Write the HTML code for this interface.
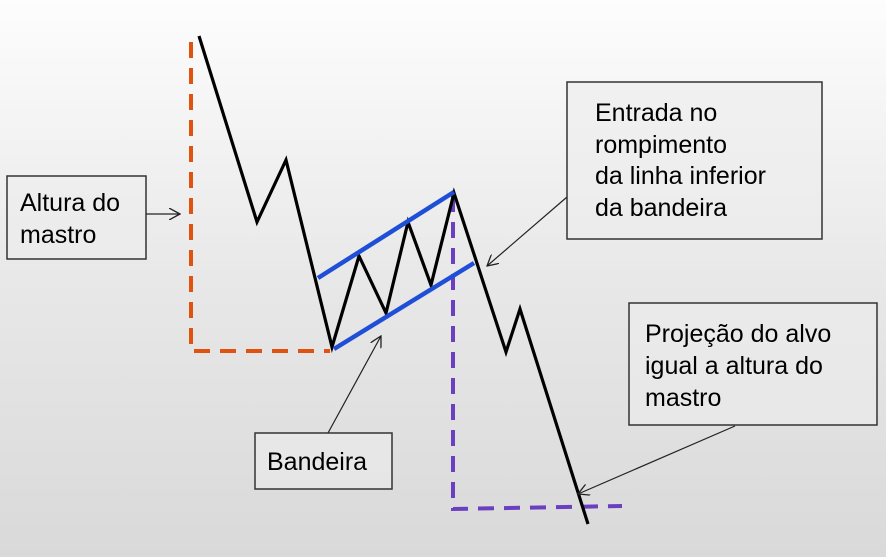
<!DOCTYPE html>
<html><head><meta charset="utf-8"><style>
html,body{margin:0;padding:0}
body{width:886px;height:557px;overflow:hidden;background:linear-gradient(#fdfdfd,#e8e8e8 50%,#d9d9d9);font-family:"Liberation Sans",sans-serif}
</style></head><body>
<svg width="886" height="557" xmlns="http://www.w3.org/2000/svg" style="position:absolute;left:0;top:0">
<defs><marker id="a" markerWidth="12" markerHeight="12" refX="11" refY="6" orient="auto" markerUnits="userSpaceOnUse"><path d="M0,0 L11,6 L0,12" fill="none" stroke="#222" stroke-width="1.3"/></marker></defs>
<polyline points="191,42 191,351 330,351" fill="none" stroke="#e0520f" stroke-width="4" stroke-dasharray="16,10"/>
<polyline points="453,196 453,509 622,506" fill="none" stroke="#6a3fc0" stroke-width="4" stroke-dasharray="16,10"/>
<polyline points="199,36 257,222 286,160 332,347 359,256 386,313 408,222 431,285 454,193 506,352 520,309 588,524" fill="none" stroke="#000" stroke-width="3.2" stroke-linejoin="miter"/>
<line x1="318" y1="278" x2="454" y2="192" stroke="#1f4fd6" stroke-width="4.5"/>
<line x1="334" y1="349" x2="474" y2="263" stroke="#1f4fd6" stroke-width="4.5"/>
<g stroke="#222" stroke-width="1.2" fill="none">
<line x1="146" y1="214" x2="180" y2="214" marker-end="url(#a)"/>
<line x1="567" y1="197" x2="487" y2="266" marker-end="url(#a)"/>
<line x1="328" y1="433" x2="381" y2="336" marker-end="url(#a)"/>
<line x1="735" y1="426" x2="578" y2="494" marker-end="url(#a)"/>
</g>
<g fill="#ececec" fill-opacity="0.6" stroke="#333" stroke-width="1.5">
<rect x="7" y="176" width="139" height="83"/>
<rect x="567" y="82" width="255" height="157"/>
<rect x="629" y="303" width="248" height="122"/>
<rect x="255" y="433" width="137" height="56"/>
</g>
<g font-family="Liberation Sans, sans-serif" font-size="25" fill="#000">
<text x="20" y="211">Altura do</text><text x="20" y="243">mastro</text>
<text x="595" y="121">Entrada no</text><text x="595" y="153">rompimento</text><text x="595" y="184">da linha inferior</text><text x="595" y="216">da bandeira</text>
<text x="645" y="342">Projeção do alvo</text><text x="645" y="374">igual a altura do</text><text x="645" y="406">mastro</text>
<text x="267" y="470">Bandeira</text>
</g>
</svg>
</body></html>
